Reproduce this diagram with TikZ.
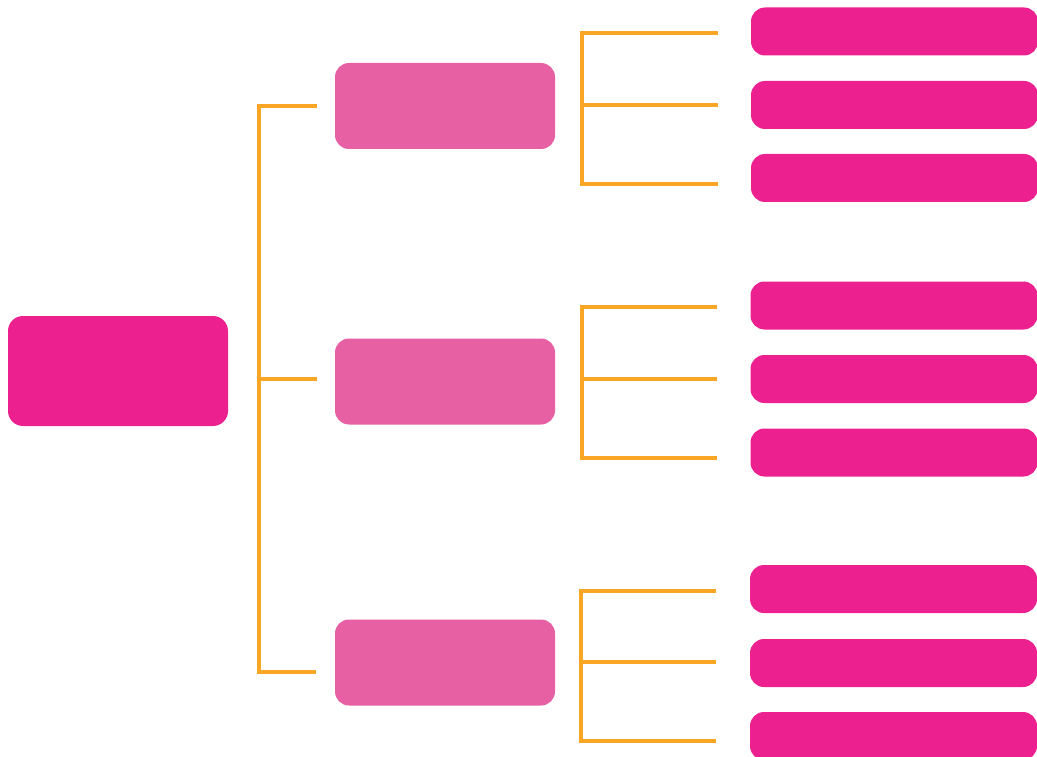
\documentclass[tikz,border=0pt]{standalone}
\definecolor{rootpink}{HTML}{EC208F}
\definecolor{midpink}{HTML}{E660A3}
\definecolor{lineorange}{HTML}{F8A623}
\begin{document}
\begin{tikzpicture}[x=1pt,y=-1pt,
  rootbox/.style={fill=rootpink, draw=none, rounded corners=15pt, minimum width=220pt, minimum height=110pt, inner sep=0pt},
  midbox/.style={fill=midpink, draw=none, rounded corners=14pt, minimum width=220pt, minimum height=86pt, inner sep=0pt},
  leafbox/.style={fill=rootpink, draw=none, rounded corners=14pt, minimum width=287pt, minimum height=48pt, inner sep=0pt},
  conn/.style={draw=lineorange, line width=3.1pt, line join=miter}]
\useasboundingbox (0,0) rectangle (1037,757);
% root
\node[rootbox] (root) at (118,371) {};
% middle level
\node[midbox] (m1) at (445,106) {};
\node[midbox] (m2) at (445,381.5) {};
\node[midbox] (m3) at (445,662.5) {};
% leaves
\node[leafbox] (l11) at (894.5,31.5) {};
\node[leafbox] (l12) at (894.5,105) {};
\node[leafbox] (l13) at (894.5,178) {};
\node[leafbox] (l21) at (894,305.5) {};
\node[leafbox] (l22) at (894,379) {};
\node[leafbox] (l23) at (894,452.5) {};
\node[leafbox] (l31) at (893.5,589) {};
\node[leafbox] (l32) at (893.5,663) {};
\node[leafbox] (l33) at (893.5,736) {};
% root bracket
\coordinate (t1) at (259,106);
\coordinate (t2) at (259,379);
\coordinate (t3) at (259,672);
\coordinate (e1) at (317,106);
\coordinate (e2) at (317,379);
\coordinate (e3) at (316,672);
\draw[conn] (e1) -- (t1) -- (t3) -- (e3);
\draw[conn] (t2) -- (e2);
% group 1 bracket
\coordinate (a1) at (582,33);
\coordinate (a2) at (582,105);
\coordinate (a3) at (582,184);
\coordinate (b1) at (718,33);
\coordinate (b2) at (718,105);
\coordinate (b3) at (718,184);
\draw[conn] (b1) -- (a1) -- (a3) -- (b3);
\draw[conn] (a2) -- (b2);
% group 2 bracket
\coordinate (c1) at (582,307);
\coordinate (c2) at (582,379);
\coordinate (c3) at (582,458);
\coordinate (d1) at (717,307);
\coordinate (d2) at (717,379);
\coordinate (d3) at (717,458);
\draw[conn] (d1) -- (c1) -- (c3) -- (d3);
\draw[conn] (c2) -- (d2);
% group 3 bracket
\coordinate (f1) at (581,591);
\coordinate (f2) at (581,662);
\coordinate (f3) at (581,741);
\coordinate (g1) at (716,591);
\coordinate (g2) at (716,662);
\coordinate (g3) at (716,741);
\draw[conn] (g1) -- (f1) -- (f3) -- (g3);
\draw[conn] (f2) -- (g2);
\end{tikzpicture}
\end{document}
